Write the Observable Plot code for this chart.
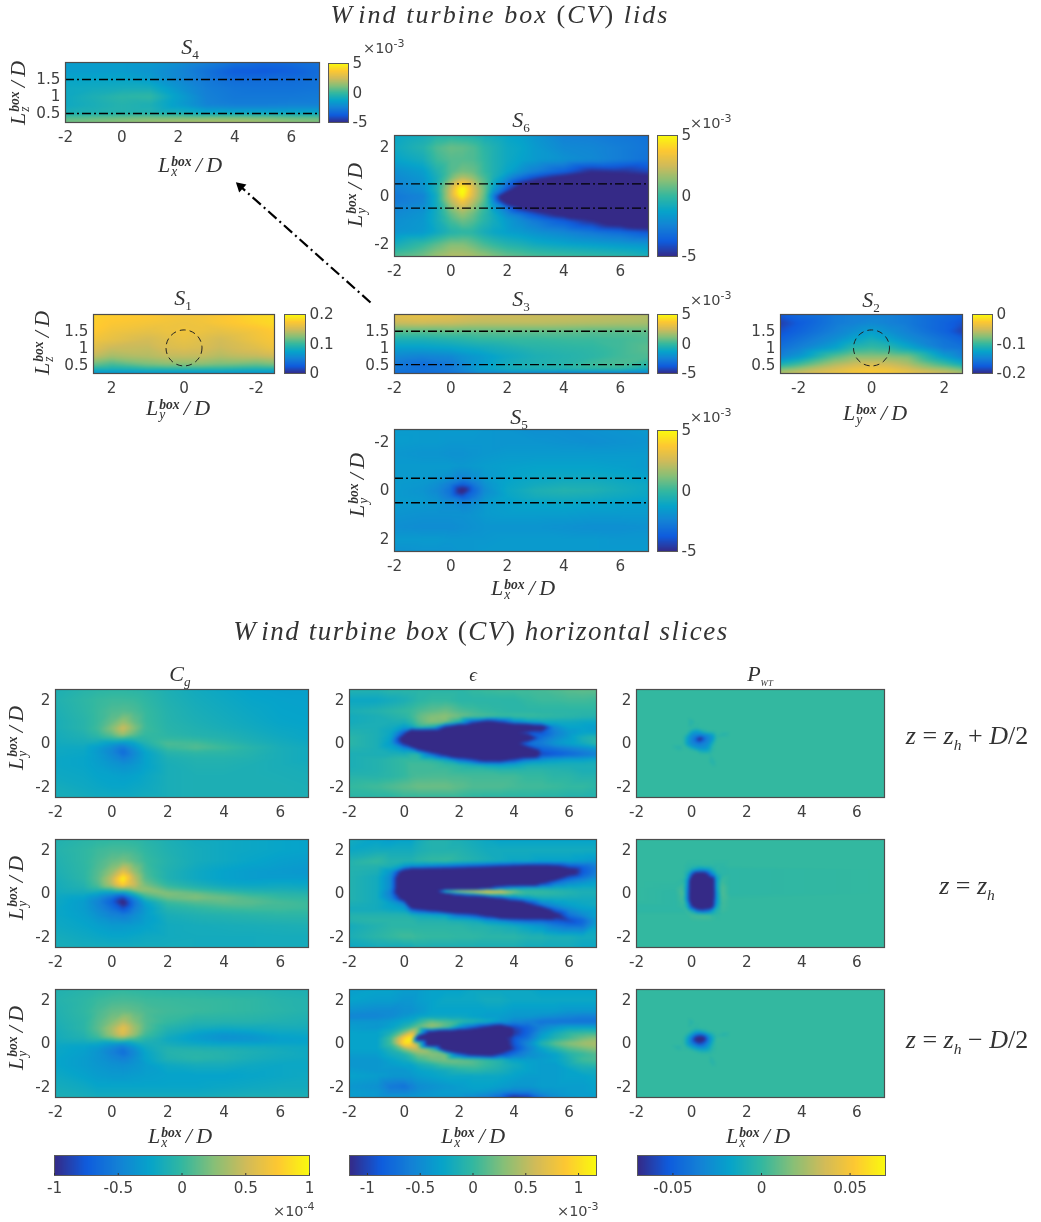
<!DOCTYPE html>
<html><head><meta charset="utf-8">
<script src="https://cdn.jsdelivr.net/npm/d3@7"></script>
<script src="https://cdn.jsdelivr.net/npm/@observablehq/plot@0.6"></script>
<style>
html,body{margin:0;padding:0;background:#fff}
#page{position:relative;width:1041px;height:1222px;overflow:hidden;filter:blur(.45px)}
#page svg{position:absolute;background:transparent;overflow:visible}
.t{position:absolute;white-space:nowrap;color:#333;font-family:"Liberation Serif",serif;transform:translate(-50%,-50%);line-height:1}
.t i{font-style:italic}
.ss{display:inline-flex;flex-direction:column;vertical-align:middle;font-style:italic;line-height:.72;font-size:.62em;margin:0 3px 0 1px;text-align:left}
.ss b{font-weight:700}
.mult{position:absolute;white-space:nowrap;color:#444;font:14.5px "DejaVu Sans",sans-serif;line-height:1;transform:translateY(-50%)}
.mult sup{font-size:11px;line-height:0}
</style></head><body><div id="page"></div>
<script>
// parula colour stops
const parula=["#352a87","#0f5cdd","#1481d6","#06a4ca","#33b8a0","#87bf77","#d1bb59","#fec832","#f9fb0e"];

// --- lid grids: z (top to bottom) / x or y columns
const zRows=[2,1.75,1.5,1.25,1,.75,.5,.35,.235];
const xLid=[-2,-1,0,1,2,3,4,5,6,7];
const S4=[
-1.5,-1.5,-1.5,-1.6,-2,-2.5,-3,-3.3,-3.2,-3,
-1.5,-1.5,-1.5,-1.8,-2.3,-3,-3.7,-3.8,-3.6,-3.2,
-1.2,-1.2,-1.2,-1.5,-2.2,-2.8,-3.2,-3.2,-3.2,-3,
-1,-.9,-.8,-.8,-1.8,-2.6,-2.9,-3,-3,-2.9,
-1,-.6,-.2,-.1,-1.4,-2.5,-2.8,-2.8,-2.8,-2.7,
-1,-.7,-.4,-.6,-1.5,-2.4,-2.6,-2.6,-2.5,-2.5,
-.6,-.5,-.4,-.4,-.6,-1,-1,-1,-1,-1,
.6,.8,1,1.2,1.3,1.4,1.4,1.3,1,.9,
1,1.2,1.4,1.6,1.8,1.9,1.9,1.7,1.4,1.2];
const S3=[
3,3.2,3,2.6,2.5,2.4,2.4,2.3,2.2,2,
2.4,2.5,2.4,2.2,2.2,2.2,2.1,2,1.9,1.8,
.6,.6,.7,.7,.7,.7,.7,.6,.6,.7,
-.6,-.6,-.4,-.1,0,0,.1,.1,.2,.4,
-1.4,-1.4,-1.2,-.9,-.6,-.3,-.2,-.1,.2,.6,
-2.2,-2.4,-2.2,-1.6,-1,-.6,-.4,-.2,.2,.4,
-2.8,-3.2,-2.8,-1.6,-.8,-.5,-.3,.2,.4,-.2,
-2.8,-3,-2.6,-1.4,-.8,-.6,-.5,-.3,-.3,-1,
-3.2,-3.4,-3.2,-2.6,-2.6,-2.8,-3,-3,-2.9,-2.6];
const ySide=[2.5,2,1,.5,0,-.5,-1,-2,-2.5];
const S1=[
.18,.178,.176,.172,.17,.17,.174,.184,.186,
.178,.174,.17,.168,.166,.168,.172,.18,.184,
.176,.168,.162,.165,.168,.165,.162,.17,.176,
.168,.162,.152,.158,.163,.158,.152,.166,.172,
.158,.148,.146,.154,.157,.154,.148,.158,.166,
.145,.135,.14,.145,.145,.145,.14,.145,.15,
.115,.105,.12,.125,.125,.125,.12,.115,.12,
.085,.085,.09,.09,.09,.09,.09,.085,.085,
.06,.06,.06,.06,.06,.06,.06,.06,.06];
const xSideS2=[-2.5,-2,-1,-.5,0,.5,1,2,2.5];
const S2=[
-.175,-.165,-.155,-.15,-.15,-.15,-.155,-.165,-.17,
-.19,-.175,-.155,-.15,-.145,-.15,-.155,-.17,-.18,
-.18,-.17,-.15,-.14,-.13,-.14,-.15,-.17,-.19,
-.17,-.16,-.14,-.125,-.115,-.125,-.14,-.16,-.17,
-.16,-.15,-.125,-.105,-.1,-.105,-.12,-.155,-.16,
-.15,-.135,-.09,-.075,-.075,-.075,-.08,-.13,-.15,
-.11,-.095,-.06,-.05,-.045,-.05,-.06,-.095,-.115,
-.075,-.065,-.045,-.035,-.03,-.035,-.045,-.065,-.08,
-.06,-.05,-.035,-.028,-.025,-.028,-.035,-.05,-.06];
const xS6=[-2,-1,-.5,0,.4,.8,1.2,1.5,2,2.5,3,4,5,6,7];
const yS6=[2.5,2,1.5,1,.75,.5,.25,0,-.25,-.5,-.75,-1,-1.5,-2,-2.5];
const S6=[
-1.2,-.8,-.4,-.3,-.4,-.5,-.8,-.9,-1.2,-1.4,-1.8,-2.5,-2.6,-2.8,-3,
-1,-.4,.4,.8,.7,.4,-.2,-.5,-1,-1.2,-1.6,-2.2,-2.3,-2.6,-2.9,
-1.3,-.8,.1,.5,.5,.4,-.1,-.5,-1,-1.3,-1.6,-1.9,-2.2,-2.6,-3,
-2,-1.5,-.5,.5,1,.8,0,-.5,-1.2,-2,-2.6,-3.6,-5,-4.8,-4.3,
-2.2,-1.7,-.7,.9,2,1.4,.3,-.6,-2,-3.2,-4.2,-5.6,-7,-6.5,-5.6,
-2.4,-1.8,-.6,2,3.9,2.3,.6,-1,-3,-5,-6,-8,-8,-8,-8,
-2.6,-2,-.5,2.6,5.6,2.8,.8,-1.5,-4,-8,-8,-8,-8,-8,-8,
-2.8,-2.4,-.8,2.6,5,2.6,.6,-2.6,-8,-8,-8,-8,-8,-8,-8,
-2.7,-2.3,-.8,2,3.4,2,.3,-2,-6,-8,-8,-8,-8,-8,-8,
-2.4,-2,-.8,1.3,2.4,1.4,0,-1.4,-3,-5,-6,-8,-8,-8,-8,
-2.2,-1.8,-.8,.7,1.5,.8,-.2,-.9,-2.2,-3,-4,-5.6,-8,-8,-8,
-2,-1.7,-.8,.3,.9,.5,-.3,-.8,-1.6,-2.2,-2.8,-3.8,-5,-6.5,-8,
-1.8,-1.6,-1,-.4,-.2,-.3,-.8,-1.1,-1.4,-1.6,-1.9,-2.3,-2.8,-3.2,-3.8,
-.8,0,.6,1.2,1.2,.8,.3,0,-.4,-.6,-.9,-1.2,-1.4,-1.6,-1.8,
.5,1,1.6,2,2,1.8,1.5,1.2,.8,.6,.4,.2,0,-.2,-.6];
const xS5=[-2,-1,-.5,0,.4,.8,1.2,2,3,4,5,6,7];
const yS5=[-2.5,-2,-1.5,-1,-.5,-.25,0,.25,.5,1,1.5,2,2.5];
const S5=[
-1.6,-1.6,-1.6,-1.6,-1.6,-1.6,-1.7,-1.8,-2,-2,-1.9,-1.8,-1.6,
-1.5,-1.6,-1.6,-1.7,-1.7,-1.7,-1.7,-1.8,-1.8,-1.9,-2,-1.9,-1.8,
-1.7,-1.8,-1.8,-1.9,-1.9,-1.8,-1.7,-1.6,-1.6,-1.6,-1.6,-1.6,-1.6,
-1.6,-1.6,-1.6,-1.6,-1.7,-1.6,-1.5,-1.4,-1.3,-1.3,-1.3,-1.4,-1.6,
-1.6,-1.6,-1.7,-2,-2.4,-2,-1.6,-1.3,-1.1,-1,-1,-1.1,-1.3,
-1.6,-1.7,-2,-2.7,-3.6,-2.8,-1.9,-1.2,-.9,-.7,-.7,-.9,-1.1,
-1.6,-1.8,-2.2,-3.1,-5.8,-3.4,-2.1,-1.1,-.6,-.4,-.5,-.8,-1.1,
-1.6,-1.7,-2,-2.8,-3.8,-2.9,-1.9,-1.2,-.8,-.7,-.8,-1,-1.2,
-1.6,-1.6,-1.7,-2,-2.3,-2,-1.6,-1.4,-1.2,-1.1,-1.2,-1.3,-1.4,
-1.8,-1.9,-1.9,-1.9,-1.9,-1.8,-1.6,-1.5,-1.5,-1.5,-1.6,-1.6,-1.6,
-2,-2.1,-2.1,-2.1,-2,-1.9,-1.8,-1.8,-1.8,-1.9,-2,-2,-1.9,
-1.6,-1.6,-1.6,-1.7,-1.7,-1.7,-1.7,-1.6,-1.6,-1.6,-1.6,-1.7,-1.7,
-1.9,-1.8,-1.8,-1.8,-1.7,-1.7,-1.6,-1.6,-1.6,-1.6,-1.6,-1.6,-1.6];

// --- C_g slices
const xCg=[-2,-1,-.5,0,.4,.8,1.2,2,3,4,5,6,7];
const yCg=[2.5,2,1.5,1,.7,.4,.2,0,-.2,-.4,-.7,-1,-1.5,-2,-2.5];
const Cg1=[
-.12,-.06,-.04,-.03,-.03,-.04,-.06,-.12,-.18,-.22,-.26,-.28,-.28,
-.1,-.03,.01,.03,.03,.02,-.02,-.1,-.16,-.2,-.24,-.26,-.27,
-.12,-.04,.02,.08,.1,.07,.01,-.08,-.14,-.18,-.22,-.25,-.26,
-.14,-.06,.02,.15,.3,.15,.02,-.07,-.12,-.16,-.2,-.24,-.25,
-.14,-.06,.04,.25,.5,.24,.03,-.06,-.1,-.14,-.18,-.22,-.24,
-.16,-.1,-.02,.12,.3,.12,0,-.04,-.08,-.1,-.15,-.2,-.23,
-.17,-.13,-.1,-.06,-.05,-.06,-.04,0,-.02,-.07,-.13,-.18,-.22,
-.18,-.16,-.2,-.3,-.36,-.26,-.1,.08,.06,-.02,-.1,-.16,-.2,
-.2,-.2,-.3,-.42,-.56,-.36,-.18,.03,.1,.03,-.06,-.14,-.18,
-.2,-.22,-.32,-.46,-.64,-.44,-.25,-.06,-.02,-.03,-.08,-.14,-.18,
-.22,-.24,-.3,-.4,-.5,-.4,-.26,-.12,-.08,-.08,-.1,-.14,-.18,
-.22,-.24,-.28,-.34,-.38,-.34,-.26,-.14,-.1,-.1,-.12,-.14,-.16,
-.2,-.22,-.25,-.26,-.28,-.26,-.22,-.14,-.12,-.12,-.12,-.13,-.14,
-.16,-.2,-.22,-.24,-.24,-.22,-.2,-.14,-.12,-.12,-.12,-.12,-.13,
-.14,-.16,-.18,-.18,-.18,-.18,-.16,-.14,-.12,-.12,-.12,-.12,-.12];
const Cg2=[
-.1,-.05,-.03,-.02,-.02,-.03,-.06,-.12,-.18,-.2,-.22,-.24,-.26,
-.08,-.02,.03,.06,.06,.04,-.02,-.1,-.16,-.2,-.22,-.24,-.26,
-.1,-.02,.06,.15,.2,.12,.02,-.08,-.16,-.2,-.24,-.28,-.3,
-.12,-.03,.1,.3,.6,.3,.06,-.1,-.2,-.26,-.3,-.32,-.34,
-.14,-.04,.12,.45,.98,.45,.1,-.1,-.2,-.26,-.3,-.3,-.3,
-.16,-.08,.08,.4,.78,.5,.2,-.02,-.12,-.2,-.22,-.2,-.22,
-.17,-.12,-.04,.05,.2,.32,.3,.1,-.02,-.1,-.14,-.14,-.16,
-.18,-.18,-.25,-.34,-.4,-.1,.15,.25,.18,.06,-.03,-.06,-.08,
-.2,-.26,-.4,-.62,-.88,-.45,-.05,.18,.24,.18,.08,0,-.02,
-.2,-.3,-.48,-.72,-1.1,-.58,-.25,.02,.1,.14,.12,.06,.02,
-.22,-.3,-.44,-.6,-.8,-.52,-.32,-.08,-.03,.02,.04,.04,.02,
-.22,-.28,-.38,-.48,-.52,-.42,-.3,-.14,-.1,-.08,-.06,-.04,-.04,
-.2,-.24,-.28,-.32,-.32,-.3,-.26,-.18,-.16,-.15,-.14,-.13,-.12,
-.16,-.2,-.22,-.24,-.24,-.22,-.2,-.18,-.17,-.17,-.17,-.16,-.16,
-.14,-.16,-.16,-.16,-.16,-.16,-.16,-.16,-.17,-.17,-.17,-.16,-.16];
const Cg3=[
-.1,-.06,-.04,-.02,-.01,-.02,-.03,-.05,-.06,-.08,-.08,-.1,-.12,
-.08,-.03,.02,.05,.06,.05,.03,.02,.01,0,-.02,-.06,-.08,
-.1,-.02,.06,.14,.16,.13,.08,.04,.02,0,-.02,-.05,-.08,
-.12,-.04,.1,.24,.4,.24,.1,0,-.08,-.08,-.08,-.1,-.12,
-.14,-.04,.12,.36,.62,.34,.1,-.08,-.16,-.2,-.18,-.16,-.16,
-.16,-.08,.06,.32,.56,.3,.04,-.15,-.28,-.36,-.32,-.24,-.22,
-.17,-.12,-.04,.06,.15,.05,-.06,-.2,-.3,-.38,-.36,-.28,-.26,
-.2,-.2,-.22,-.3,-.34,-.22,-.14,-.16,-.22,-.26,-.26,-.24,-.24,
-.22,-.26,-.32,-.44,-.55,-.38,-.2,-.1,-.12,-.14,-.16,-.18,-.2,
-.22,-.28,-.36,-.5,-.62,-.44,-.24,-.08,-.06,-.08,-.12,-.16,-.2,
-.24,-.3,-.36,-.44,-.5,-.4,-.26,-.1,-.05,-.08,-.14,-.18,-.2,
-.24,-.3,-.34,-.38,-.4,-.36,-.3,-.2,-.16,-.16,-.2,-.22,-.22,
-.2,-.26,-.3,-.32,-.32,-.3,-.28,-.26,-.26,-.26,-.24,-.22,-.2,
-.16,-.2,-.24,-.24,-.24,-.24,-.24,-.24,-.24,-.22,-.2,-.18,-.18,
-.12,-.14,-.16,-.16,-.16,-.16,-.16,-.16,-.16,-.14,-.12,-.12,-.12];

// --- epsilon slices
const xEps=[-2,-1,-.5,0,.25,.5,1,1.5,2,2.5,3,3.5,4,4.5,5,5.5,6,6.5,7];
const yEps1=[2.5,2,1.5,1.25,1,.75,.5,.25,0,-.25,-.5,-.75,-1,-1.25,-1.5,-2,-2.5];
const Eps1=[
-.1,-.1,-.05,-.05,-.05,-.05,-.05,-.05,-.05,0,.03,.05,.05,.05,.07,.1,.14,.16,.16,
-.25,-.25,-.2,-.15,-.1,-.05,0,0,-.05,-.05,-.05,-.05,-.05,0,.03,.03,.05,.05,.03,
-.15,-.1,-.05,0,.03,.08,.15,.2,.1,.05,0,-.03,-.05,-.05,-.05,-.05,-.05,-.05,-.05,
-.2,-.15,-.1,-.05,.03,.15,.28,.32,.22,.12,.08,.03,.03,.03,0,-.03,-.05,-.08,-.1,
-.2,-.15,-.15,-.15,-.05,.12,.3,.25,-.1,-.9,-1.3,-1,-.5,-.3,-.22,-.22,-.22,-.25,-.25,
-.15,-.15,-.2,-.35,-.25,-.05,-.15,-1.2,-2,-2,-2,-2,-2,-2,-1.5,-.5,-.3,-.3,-.35,
-.1,-.15,-.25,-.9,-2,-2,-2,-2,-2,-2,-2,-2,-1.2,-.9,-.9,-.6,-.4,-.3,-.3,
-.05,-.15,-.3,-1.5,-2,-2,-2,-2,-2,-2,-2,-2,-2,-1.6,-.7,-.5,-.35,-.15,-.05,
-.05,-.15,-.35,-1.2,-2,-2,-2,-2,-2,-2,-2,-2,-1.3,-.7,-.6,-.4,-.3,-.2,-.05,
-.1,-.15,-.25,-.45,-.6,-1.2,-2,-2,-2,-2,-2,-2,-2,-1.3,-.8,-.7,-.6,-.5,-.4,
-.15,-.15,-.15,-.15,-.05,-.05,-.7,-1.3,-2,-2,-2,-2,-2,-2,-1,-.9,-.8,-.7,-.6,
-.15,-.1,-.05,0,0,0,-.05,-.25,-.7,-1,-1.4,-1.4,-1,-.6,-.45,-.35,-.3,-.3,-.25,
-.15,-.1,-.05,0,.05,.05,.05,0,-.05,-.15,-.25,-.3,-.25,-.15,-.15,-.15,-.15,-.15,-.15,
-.13,-.1,-.05,0,.05,.05,.05,.05,0,0,0,-.05,-.05,-.05,-.05,-.08,-.1,-.15,-.15,
-.08,-.08,-.05,0,.05,.07,.08,.08,.07,.05,.05,.05,.05,0,0,-.05,-.05,-.1,-.1,
0,.05,.1,.15,.17,.2,.2,.2,.15,.1,.1,.1,.07,.05,.05,.03,0,0,-.05,
-.05,-.05,-.05,0,0,0,0,0,0,-.03,-.05,-.05,-.05,-.05,-.07,-.07,-.1,-.1,-.1];
const yEps2=[2.5,2,1.5,1.25,1,.75,.5,.25,.1,0,-.25,-.5,-.75,-1,-1.25,-1.5,-2,-2.5];
const Eps2=[
-.2,-.3,-.35,-.3,-.3,-.2,-.1,-.1,-.15,-.2,-.25,-.3,-.3,-.3,-.3,-.3,-.3,-.3,-.3,
-.25,-.2,-.2,-.2,-.2,-.15,-.1,-.1,-.1,-.15,-.2,-.2,-.2,-.2,-.2,-.2,-.2,-.2,-.2,
-.1,0,-.1,-.1,-.1,-.05,0,.02,-.05,-.1,-.15,-.2,-.25,-.25,-.3,-.3,-.3,-.35,-.4,
-.1,-.1,-.15,-.4,-.5,-.5,-.6,-.7,-.8,-.9,-1,-1.1,-1.2,-1.3,-1.3,-1.2,-.9,-.8,-.6,
-.1,-.15,-.4,-1.5,-2,-2,-2,-2,-2,-2,-2,-2,-2,-2,-2,-2,-1.5,-.9,-.6,
-.1,-.2,-.5,-2,-2,-2,-2,-2,-2,-2,-2,-2,-2,-2,-2,-1.5,-.9,-.7,-.5,
-.1,-.2,-.5,-2,-2,-2,-2,-2,-2,-2,-2,-2,-2,-2,-1.2,-.7,-.5,-.4,-.3,
-.1,-.2,-.5,-2,-2,-2,-2,-2,-2,-2,-1.2,-.6,-.3,-.2,-.2,-.2,-.2,-.2,-.2,
-.1,-.2,-.6,-2,-2,-2,-1.8,.2,.7,.9,1,.8,.3,0,0,-.05,-.1,-.15,-.15,
-.1,-.2,-.6,-2,-2,-2,-1.6,-1.2,-.6,-.2,.3,.3,.1,0,-.02,-.05,-.1,-.15,-.15,
-.1,-.2,-.5,-1.4,-2,-2,-2,-2,-2,-2,-1.8,-1.2,-.7,-.4,-.2,-.2,-.2,-.2,-.2,
-.15,-.2,-.3,-.5,-2,-2,-2,-2,-2,-2,-2,-2,-1.9,-1.2,-.6,-.4,-.3,-.25,-.2,
-.2,-.2,-.25,-.3,-.8,-1,-1.3,-1.8,-2,-2,-2,-2,-2,-2,-1.6,-.8,-.5,-.35,-.3,
-.1,-.1,-.1,-.1,-.15,-.2,-.25,-.3,-.7,-.9,-1.3,-2,-2,-2,-2,-1.3,-.7,-.5,-.3,
-.1,-.05,-.05,-.05,-.05,-.1,-.1,-.1,-.15,-.2,-.4,-.5,-.7,-.8,-.8,-.9,-1,-.8,-.4,
-.2,-.1,-.05,-.05,-.05,-.05,-.05,-.05,-.05,-.1,-.1,-.15,-.2,-.3,-.4,-.6,-.7,-.7,-.3,
-.15,-.05,0,.05,.05,.02,0,0,-.02,-.02,-.05,-.05,-.05,-.1,-.1,-.15,-.15,-.2,-.2,
-.25,-.2,-.2,-.2,-.2,-.15,-.15,-.15,-.15,-.15,-.15,-.15,-.15,-.2,-.2,-.2,-.2,-.25,-.25];
const yEps3=[2.5,2,1.5,1.25,1,.75,.5,.25,0,-.25,-.5,-.75,-1,-1.25,-1.5,-2,-2.25,-2.5];
const Eps3=[
-.35,-.3,-.3,-.35,-.35,-.35,-.3,-.3,-.3,-.25,-.25,-.25,-.25,-.25,-.3,-.3,-.3,-.3,-.3,
-.3,-.35,-.35,-.4,-.4,-.35,-.3,-.25,-.25,-.25,-.2,-.2,-.25,-.25,-.25,-.25,-.25,-.25,-.25,
-.45,-.5,-.5,-.45,-.45,-.4,-.3,-.3,-.3,-.3,-.3,-.3,-.35,-.35,-.35,-.35,-.4,-.4,-.4,
-.55,-.55,-.5,-.4,-.35,-.3,-.25,-.25,-.25,-.3,-.35,-.35,-.4,-.4,-.45,-.5,-.55,-.6,-.6,
-.4,-.4,-.35,-.25,-.2,-.05,.2,.1,0,-.1,-.2,-.4,-.55,-.6,-.7,-.7,-.7,-.7,-.7,
-.35,-.4,-.3,-.1,.05,.2,.4,.15,-.4,-.8,-1.2,-1.6,-1,-.8,-.55,-.4,-.3,-.3,-.3,
-.3,-.3,-.15,.3,.65,.2,-1.5,-2,-2,-2,-2,-2,-1.1,-.8,-.4,-.2,-.05,0,0,
-.3,-.3,.05,.95,1.15,-1.8,-2,-2,-2,-2,-2,-1.3,-.9,-.7,-.3,-.1,.05,.2,.3,
-.3,-.3,.05,1.05,.95,.3,-2,-2,-2,-2,-2,-1.5,-.9,-.5,-.1,.15,.3,.4,.45,
-.3,-.3,-.1,.3,.5,.5,.1,-1.7,-2,-2,-2,-2,-1,-.6,-.3,-.1,.1,.2,.3,
-.35,-.35,-.2,-.1,.05,.25,.3,.25,-.8,-1.3,-1.5,-1,-.7,-.5,-.4,-.3,-.1,0,.1,
-.4,-.4,-.3,-.2,-.1,.05,.2,.25,.2,.12,0,-.1,-.3,-.35,-.35,-.3,-.15,.05,.1,
-.4,-.4,-.35,-.3,-.3,-.2,-.1,.05,.1,.1,0,-.1,-.2,-.3,-.35,-.35,-.2,-.1,-.05,
-.35,-.4,-.4,-.4,-.35,-.3,-.25,-.2,-.1,-.05,-.1,-.15,-.25,-.3,-.35,-.35,-.3,-.2,-.2,
-.3,-.35,-.4,-.4,-.4,-.35,-.3,-.25,-.25,-.25,-.25,-.25,-.3,-.35,-.35,-.35,-.3,-.3,-.25,
-.4,-.45,-.65,-.7,-.6,-.5,-.45,-.4,-.35,-.3,-.3,-.35,-.4,-.4,-.35,-.35,-.35,-.35,-.3,
-.35,-.4,-.55,-.55,-.5,-.45,-.4,-.35,-.35,-.35,-.4,-.5,-.6,-.6,-.45,-.4,-.35,-.35,-.3,
-.35,-.4,-.4,-.4,-.4,-.4,-.4,-.4,-.4,-.5,-.6,-.8,-1.2,-1.1,-.7,-.5,-.4,-.35,-.35];

// --- P_WT slices
const xP=[-2,-.7,-.5,-.3,-.15,0,.15,.3,.45,.6,.75,.9,1.15,1.4,7];
const yP=[2.5,1.2,1,.7,.55,.4,.3,.2,.1,-.05,-.2,-.35,-.5,-.85,-1.1,-2.5];
const P1=[
0,0,0,0,0,0,0,0,0,0,0,0,0,0,0,
0,0,0,0,0,0,0,0,0,0,0,0,0,0,0,
0,0,0,0,0,-.006,0,0,0,0,0,0,0,0,0,
0,0,0,0,0,0,-.002,0,0,0,0,0,0,0,0,
0,0,0,0,0,-.014,-.022,-.018,-.006,0,0,0,0,0,0,
0,0,0,0,-.008,-.028,-.032,-.036,-.032,-.028,-.018,-.001,-.006,0,0,
0,0,0,0,-.018,-.032,-.04,-.05,-.04,-.032,-.026,-.002,0,0,0,
0,0,0,0,-.02,-.032,-.05,-.09,-.05,-.032,-.026,-.001,0,0,0,
0,0,0,0,-.02,-.032,-.04,-.052,-.04,-.032,-.018,0,0,0,0,
0,0,0,0,-.018,-.03,-.032,-.034,-.032,-.028,-.008,0,0,0,0,
0,0,-.006,0,-.001,-.012,-.024,-.028,-.028,-.022,-.003,0,0,0,0,
0,0,0,0,0,0,0,-.01,-.014,-.012,-.001,0,0,0,0,
0,0,0,0,0,0,0,0,0,0,0,0,0,0,0,
0,0,0,0,0,0,0,0,0,0,-.006,0,0,0,0,
0,0,0,0,0,0,0,0,0,0,0,0,0,0,0,
0,0,0,0,0,0,0,0,0,0,0,0,0,0,0];
const P3=[
0,0,0,0,0,0,0,0,0,0,0,0,0,0,0,
0,0,0,0,0,0,0,0,0,0,0,0,0,0,0,
0,0,0,0,0,-.005,0,0,0,0,0,0,0,0,0,
0,0,0,0,0,0,-.002,0,0,0,0,0,0,0,0,
0,0,0,0,0,-.006,-.016,-.018,-.008,0,0,0,0,0,0,
0,0,0,0,-.006,-.024,-.042,-.05,-.042,-.022,-.008,0,-.006,0,0,
0,0,0,0,-.014,-.036,-.062,-.08,-.064,-.034,-.014,-.001,0,0,0,
0,0,0,0,-.018,-.042,-.08,-.1,-.08,-.04,-.016,.001,0,0,0,
0,0,0,0,-.018,-.04,-.062,-.08,-.062,-.036,-.014,.001,0,0,0,
0,0,0,0,-.016,-.028,-.04,-.05,-.042,-.028,-.008,0,0,0,0,
0,0,-.005,0,-.003,-.012,-.022,-.028,-.026,-.018,-.004,0,0,0,0,
0,0,0,0,0,0,-.003,-.008,-.01,-.008,-.002,0,0,0,0,
0,0,0,0,0,0,0,0,0,0,0,0,0,0,0,
0,0,0,0,0,0,0,0,0,0,-.005,0,0,0,0,
0,0,0,0,0,0,0,0,0,0,0,0,0,0,0,
0,0,0,0,0,0,0,0,0,0,0,0,0,0,0];
const xP2=[-2,-.6,-.3,-.15,0,.2,.4,.6,.75,.9,1.1,1.4,7];
const yP2=[2.5,1.6,1.3,1.1,.9,.6,.3,0,-.3,-.6,-.8,-1,-1.3,-1.6,-2.5];
const P2=[
0,0,0,0,0,0,0,0,0,0,0,0,0,
0,0,0,0,0,0,0,0,0,0,0,0,0,
0,0,0,-.002,-.002,-.002,-.001,-.001,-.001,-.002,-.002,0,0,
0,0,0,-.003,-.01,-.02,-.025,-.02,-.008,-.002,-.003,-.002,0,
0,0,0,-.01,-.05,-.09,-.09,-.06,-.03,-.008,-.003,-.002,0,
0,0,-.001,-.025,-.1,-.1,-.1,-.1,-.1,-.02,.002,-.002,0,
0,-.001,.003,-.03,-.1,-.1,-.1,-.1,-.1,-.02,.006,-.002,0,
0,-.002,.006,-.035,-.1,-.1,-.1,-.1,-.1,-.025,.006,-.002,0,
0,-.002,.004,-.035,-.1,-.1,-.1,-.1,-.09,-.025,.004,0,0,
-.002,-.002,.001,-.012,-.06,-.1,-.1,-.1,-.08,-.015,.003,0,0,
-.002,-.002,-.002,.002,-.012,-.04,-.05,-.04,-.02,-.005,.002,0,0,
0,0,0,0,.003,.004,.005,.004,.001,-.001,0,0,0,
0,0,0,0,0,0,0,0,0,0,0,0,0,
0,0,0,0,0,0,0,0,0,0,0,0,0,
0,0,0,0,0,0,0,0,0,0,0,0,0];

// --- tick labels
const ticksX=[-2,0,2,4,6], ticksY=[-2,0,2], ticksZ=[.5,1,1.5], ticksSide=[-2,0,2];
const guideZ=[.5,1.5], guideY=[-.5,.5];
const arrowLine=[{x1:370,y1:302,x2:240,y2:186}];
const arrowHead=[{x:240,y:186,angle:-48}];

const page=document.getElementById("page");
const fontTick='"DejaVu Sans",sans-serif';
const TICK=15.2;
const gridCells=(xs,ys,vals)=>ys.flatMap((y,j)=>xs.map((x,i)=>({x,y,v:vals[j*xs.length+i]})));
const colorOf=(lo,hi)=>({type:"linear",domain:parula.map((_,i)=>lo+(hi-lo)*i/8),range:parula,clamp:true});
const M={l:50,t:4,r:4,b:30};
function place(svg,left,top){svg.style.left=left+"px";svg.style.top=top+"px";page.appendChild(svg);}

function panel(o){
  const marks=[
    Plot.raster(gridCells(o.xs,o.ys,o.vals),{x:"x",y:"y",fill:"v",interpolate:"barycentric",pixelSize:1,blur:1}),
    ...(o.extra||[]),
    Plot.frame({stroke:"#4d4d4d",strokeWidth:1.2}),
    Plot.axisX(o.tx,{tickSize:0,tickPadding:9,tickFormat:d=>`${d}`,fontSize:TICK,fill:"#404040",label:null}),
    Plot.axisY(o.ty,{tickSize:0,tickPadding:5,tickFormat:d=>`${d}`,fontSize:TICK,fill:"#404040",label:null})
  ];
  const svg=Plot.plot({width:o.w+M.l+M.r,height:o.h+M.t+M.b,marginLeft:M.l,marginTop:M.t,marginRight:M.r,marginBottom:M.b,
    style:{background:"transparent",fontFamily:fontTick},
    x:{domain:o.dx,axis:null},y:{domain:o.dy,axis:null},color:colorOf(o.lo,o.hi),marks});
  place(svg,o.left-M.l,o.top-M.t);
}
function barV(o){
  const n=64,vals=d3.range(n).map(i=>o.hi-(i+.5)*(o.hi-o.lo)/n);
  const svg=Plot.plot({width:o.w+50,height:o.h+16,marginLeft:0,marginRight:50,marginTop:8,marginBottom:8,
    style:{background:"transparent",fontFamily:fontTick},
    x:{domain:[0,1],axis:null},y:{domain:[o.lo,o.hi],axis:null},color:colorOf(o.lo,o.hi),
    marks:[
      Plot.raster(vals,{width:1,height:n,x1:0,x2:1,y1:o.hi,y2:o.lo,fill:d=>d}),
      Plot.frame({stroke:"#5a5a5a",strokeWidth:1}),
      Plot.axisY(o.ticks,{anchor:"right",tickSize:0,tickPadding:4,tickFormat:d=>`${d}`,fontSize:TICK,fill:"#404040",label:null})
    ]});
  place(svg,o.left,o.top-8);
}
function barH(o){
  const n=64,vals=d3.range(n).map(i=>o.lo+(i+.5)*(o.hi-o.lo)/n);
  const svg=Plot.plot({width:o.w+16,height:o.h+30,marginLeft:8,marginRight:8,marginTop:0,marginBottom:30,
    style:{background:"transparent",fontFamily:fontTick},
    x:{domain:[o.lo,o.hi],axis:null},y:{domain:[0,1],axis:null},color:colorOf(o.lo,o.hi),
    marks:[
      Plot.raster(vals,{width:n,height:1,x1:o.lo,x2:o.hi,y1:0,y2:1,fill:d=>d}),
      Plot.frame({stroke:"#5a5a5a",strokeWidth:1}),
      Plot.axisX(o.ticks,{tickSize:-2,tickPadding:9,tickFormat:d=>`${d}`,fontSize:TICK,fill:"#404040",stroke:"#333",label:null})
    ]});
  place(svg,o.left-8,o.top);
}
const guidesY=v=>Plot.ruleY(v,{stroke:"#000",strokeWidth:1.4,strokeDasharray:"9,3,2,3"});
const circle=(px)=>Plot.dot([{x:0,y:1}],{x:"x",y:"y",r:px,stroke:"#222",strokeWidth:1,strokeDasharray:"6,4",fill:"none"});

const xd=[-2,7], yd=[-2.5,2.5], zd=[.235,2];
const X0=394, W0=254;
panel({left:65,top:62,w:254,h:60,dx:xd,dy:zd,xs:xLid,ys:zRows,vals:S4,lo:-5,hi:5,tx:ticksX,ty:ticksZ,extra:[guidesY(guideZ)]});
panel({left:X0,top:135,w:W0,h:121,dx:xd,dy:yd,xs:xS6,ys:yS6,vals:S6,lo:-5,hi:5,tx:ticksX,ty:ticksY,extra:[guidesY(guideY)]});
panel({left:93,top:314,w:181,h:59,dx:[2.5,-2.5],dy:zd,xs:ySide,ys:zRows,vals:S1,lo:0,hi:.2,tx:ticksSide,ty:ticksZ,extra:[circle(18)]});
panel({left:X0,top:314,w:W0,h:59,dx:xd,dy:zd,xs:xLid,ys:zRows,vals:S3,lo:-5,hi:5,tx:ticksX,ty:ticksZ,extra:[guidesY(guideZ)]});
panel({left:780,top:314,w:182,h:59,dx:[-2.5,2.5],dy:zd,xs:xSideS2,ys:zRows,vals:S2,lo:-.2,hi:0,tx:ticksSide,ty:ticksZ,extra:[circle(18)]});
panel({left:X0,top:429,w:W0,h:122,dx:xd,dy:[2.5,-2.5],xs:xS5,ys:yS5,vals:S5,lo:-5,hi:5,tx:ticksX,ty:ticksY,extra:[guidesY(guideY)]});

barV({left:328,top:63,w:20,h:59,lo:-5,hi:5,ticks:[-5,0,5]});
barV({left:657,top:135,w:20,h:121,lo:-5,hi:5,ticks:[-5,0,5]});
barV({left:284,top:314,w:21,h:59,lo:0,hi:.2,ticks:[0,.1,.2]});
barV({left:657,top:314,w:20,h:59,lo:-5,hi:5,ticks:[-5,0,5]});
barV({left:972,top:314,w:20,h:59,lo:-.2,hi:0,ticks:[-.2,-.1,0]});
barV({left:657,top:430,w:20,h:121,lo:-5,hi:5,ticks:[-5,0,5]});

const rowsTop=[689,839,989];
[Cg1,Cg2,Cg3].forEach((v,i)=>panel({left:55,top:rowsTop[i],w:253,h:108,dx:xd,dy:yd,xs:xCg,ys:yCg,vals:v,lo:-1,hi:1,tx:ticksX,ty:ticksY}));
[[Eps1,yEps1],[Eps2,yEps2],[Eps3,yEps3]].forEach(([v,ys],i)=>panel({left:349,top:rowsTop[i],w:247,h:108,dx:xd,dy:yd,xs:xEps,ys,vals:v,lo:-1.17,hi:1.17,tx:ticksX,ty:ticksY}));
panel({left:636,top:689,w:248,h:108,dx:xd,dy:yd,xs:xP,ys:yP,vals:P1,lo:-.07,hi:.07,tx:ticksX,ty:ticksY});
panel({left:636,top:839,w:248,h:108,dx:xd,dy:yd,xs:xP2,ys:yP2,vals:P2,lo:-.07,hi:.07,tx:ticksX,ty:ticksY});
panel({left:636,top:989,w:248,h:108,dx:xd,dy:yd,xs:xP,ys:yP,vals:P3,lo:-.07,hi:.07,tx:ticksX,ty:ticksY});

barH({left:54,top:1155,w:255,h:20,lo:-1,hi:1,ticks:[-1,-.5,0,.5,1]});
barH({left:349,top:1155,w:247,h:20,lo:-1.17,hi:1.17,ticks:[-1,-.5,0,.5,1]});
barH({left:637,top:1155,w:248,h:20,lo:-.07,hi:.07,ticks:[-.05,0,.05]});

// dash-dot arrow between the S3 and S4 lids
place(Plot.plot({width:160,height:140,margin:0,style:{background:"transparent"},
  x:{domain:[225,385],axis:null},y:{domain:[175,315],range:[0,140],axis:null},
  marks:[
    Plot.link(arrowLine,{x1:"x1",y1:"y1",x2:"x2",y2:"y2",stroke:"#000",strokeWidth:2.2,strokeDasharray:"11,4,2,4"}),
    Plot.dot(arrowHead,{x:"x",y:"y",symbol:"triangle",r:4,fill:"#000",rotate:"angle"})
  ]}),225,175);

// text
function T(html,x,y,size,rot){
  const d=document.createElement("div");d.className="t";d.innerHTML=html;
  d.style.left=x+"px";d.style.top=y+"px";d.style.fontSize=size+"px";
  if(rot)d.style.transform=`translate(-50%,-50%) rotate(${rot}deg)`;
  page.appendChild(d);
}
const L=s=>`<i>L</i><span class="ss"><b>box</b><span>${s}</span></span><i style="margin-left:1px">/&#8201;D</i>`;
const sub=(a,b,f=.6)=>`<i>${a}</i><sub style="font-size:${f}em;line-height:0">${b}</sub>`;
const subI=(a,b,f=.6)=>`<i>${a}</i><sub style="font-size:${f}em;line-height:0"><i>${b}</i></sub>`;
const W=`<i style="margin-right:4px">W</i>`;
T(`<span style="letter-spacing:2.05px">${W}<i>ind turbine box </i>(<i>CV</i>) <i>lids</i></span>`,500,15,26);
T(`<span style="letter-spacing:1.55px">${W}<i>ind turbine box </i>(<i>CV</i>) <i>horizontal slices</i></span>`,481,631,27);
T(sub("S",4),190,47,22);T(sub("S",6),521,120,22);T(sub("S",1),183,298,22);T(sub("S",3),521,299,22);T(sub("S",2),871,300,22);T(sub("S",5),519,417,22);
T(subI("C","g"),180,674,22);T(`<i>&#1013;</i>`,473,674,19);T(subI("P","WT",.4),760,674,22);
T(L("x"),190,165,22);T(L("z"),18,93,22,-90);T(L("y"),355,195,22,-90);T(L("z"),42,343,22,-90);T(L("y"),178,408,22);
T(L("y"),875,413,22);T(L("y"),357,485,22,-90);T(L("x"),523,588,22);
[738,888,1038].forEach(y=>T(L("y"),16,y,22,-90));
[180,473,758].forEach(x=>T(L("x"),x,1136,22));
T(`<i>z</i> = ${subI("z","h")} + <i>D</i>/2`,967,736,26);T(`<i>z</i> = ${subI("z","h")}`,967,886,26);T(`<i>z</i> = ${subI("z","h")} &#8722; <i>D</i>/2`,967,1040,26);
function mult(x,y,e){const d=document.createElement("div");d.className="mult";d.innerHTML=`×10<sup>${e}</sup>`;d.style.left=x+"px";d.style.top=y+"px";page.appendChild(d);}
mult(363,48,-3);mult(690,123,-3);mult(690,300,-3);mult(690,417,-3);mult(273,1211,-4);mult(557,1211,-3);
</script></body></html>
